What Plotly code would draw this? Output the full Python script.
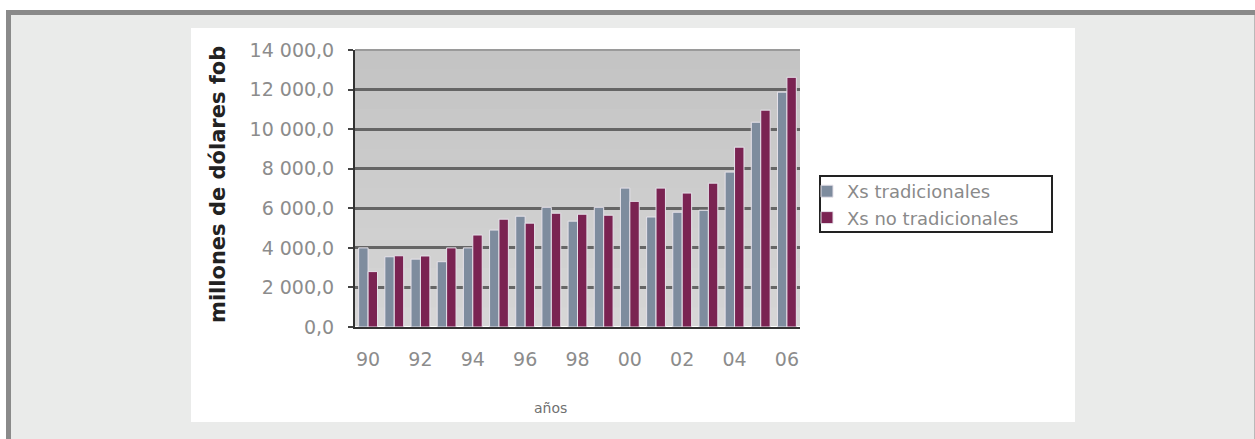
import plotly.graph_objects as go

# Exportaciones anuales, millones de dólares FOB
years = ["90", "91", "92", "93", "94", "95", "96", "97", "98", "99",
         "00", "01", "02", "03", "04", "05", "06"]
tradicionales = [4000, 3550, 3430, 3300, 4000, 4900, 5600, 6050, 5350, 6050,
                 7020, 5560, 5800, 5900, 7830, 10350, 11870]
no_tradicionales = [2800, 3600, 3590, 4000, 4650, 5450, 5250, 5750, 5700, 5650,
                    6350, 7020, 6770, 7270, 9090, 10960, 12620]

y_ticks = [0, 2000, 4000, 6000, 8000, 10000, 12000, 14000]
y_tick_text = ["0,0", "2 000,0", "4 000,0", "6 000,0", "8 000,0",
               "10 000,0", "12 000,0", "14 000,0"]
x_ticks = years[::2]

W, H = 1255, 439
L, R, T, B = 355, 800, 50, 327  # plot area in pixels


def px(x):
    return (x - L) / (R - L)


def py(y):
    return (B - y) / (B - T)


fig = go.Figure()
fig.add_trace(go.Bar(
    x=years, y=tradicionales, name="Xs tradicionales",
    marker=dict(color="#7E8C9E", line=dict(color="#E6E2EA", width=1)),
))
fig.add_trace(go.Bar(
    x=years, y=no_tradicionales, name="Xs no tradicionales",
    marker=dict(color="#7A2352", line=dict(color="#E6E2EA", width=1)),
))

shapes = [
    # outer frame
    dict(type="rect", xref="paper", yref="paper", layer="below",
         x0=px(8.5), x1=px(1257), y0=py(12.5), y1=py(450),
         fillcolor="#EAEBEA", line=dict(color="#8A8A8A", width=5)),
    # white chart panel
    dict(type="rect", xref="paper", yref="paper", layer="below",
         x0=px(191), x1=px(1075), y0=py(28), y1=py(422),
         fillcolor="#FFFFFF", line=dict(width=0)),
]

# plot-area wall: soft vertical gradient, darker at the top
n_strips = 14
step = (B - T) / n_strips
for i in range(n_strips):
    c = int(0xC4 + (0xD6 - 0xC4) * i / (n_strips - 1))
    y0 = T + step * i
    y1 = min(B, T + step * (i + 1) + 1.5)  # overlap to avoid seams
    shapes.append(dict(type="rect", xref="paper", yref="paper", layer="below",
                       x0=0, x1=1, y0=py(y1), y1=py(y0),
                       fillcolor=f"rgb({c},{c},{c})", line=dict(width=0)))

# top edge of the wall and legend frame
shapes.append(dict(type="line", xref="paper", yref="paper", layer="above",
                   x0=0, x1=1, y0=1, y1=1, line=dict(color="#9A9A9A", width=2)))
shapes.append(dict(type="rect", xref="paper", yref="paper", layer="above",
                   x0=px(820), x1=px(1052), y0=py(176), y1=py(232),
                   line=dict(color="#222222", width=2)))

annotations = [
    dict(text="<b>millones de dólares fob</b>", xref="paper", yref="paper",
         x=px(218), y=py(185), xanchor="center", yanchor="middle",
         textangle=-90, showarrow=False,
         font=dict(family="DejaVu Sans", size=21, color="#222222")),
    dict(text="años", xref="paper", yref="paper",
         x=px(550), y=py(408), xanchor="center", yanchor="middle",
         showarrow=False,
         font=dict(family="DejaVu Sans", size=14, color="#707070")),
]

fig.update_layout(
    width=W, height=H,
    margin=dict(l=L, r=W - R, t=T, b=H - B, pad=0),
    paper_bgcolor="#FFFFFF",
    plot_bgcolor="rgba(0,0,0,0)",
    barmode="group",
    bargap=0.28,
    bargroupgap=0.0,
    shapes=shapes,
    annotations=annotations,
    showlegend=True,
    legend=dict(
        x=px(807), y=py(173), xanchor="left", yanchor="top",
        bgcolor="rgba(0,0,0,0)", borderwidth=0,
        font=dict(family="DejaVu Sans", size=18, color="#8A8A8A"),
        traceorder="normal", itemwidth=30, tracegroupgap=0,
    ),
)

fig.update_xaxes(
    type="category", tickmode="array", tickvals=x_ticks, ticktext=x_ticks,
    showline=True, linecolor="#333333", linewidth=2,
    ticks="", showgrid=False, ticklabelstandoff=14,
    tickfont=dict(family="DejaVu Sans", size=19, color="#8C8C8C"),
)
fig.update_yaxes(
    range=[0, 14000], tickmode="array", tickvals=y_ticks, ticktext=y_tick_text,
    showline=True, linecolor="#333333", linewidth=2,
    ticks="outside", ticklen=5, tickcolor="#444444", tickwidth=2,
    ticklabelstandoff=10,
    showgrid=True, gridcolor="#656565", gridwidth=2.5,
    tickfont=dict(family="DejaVu Sans", size=19, color="#8C8C8C"),
)

fig.write_html("out.html")
